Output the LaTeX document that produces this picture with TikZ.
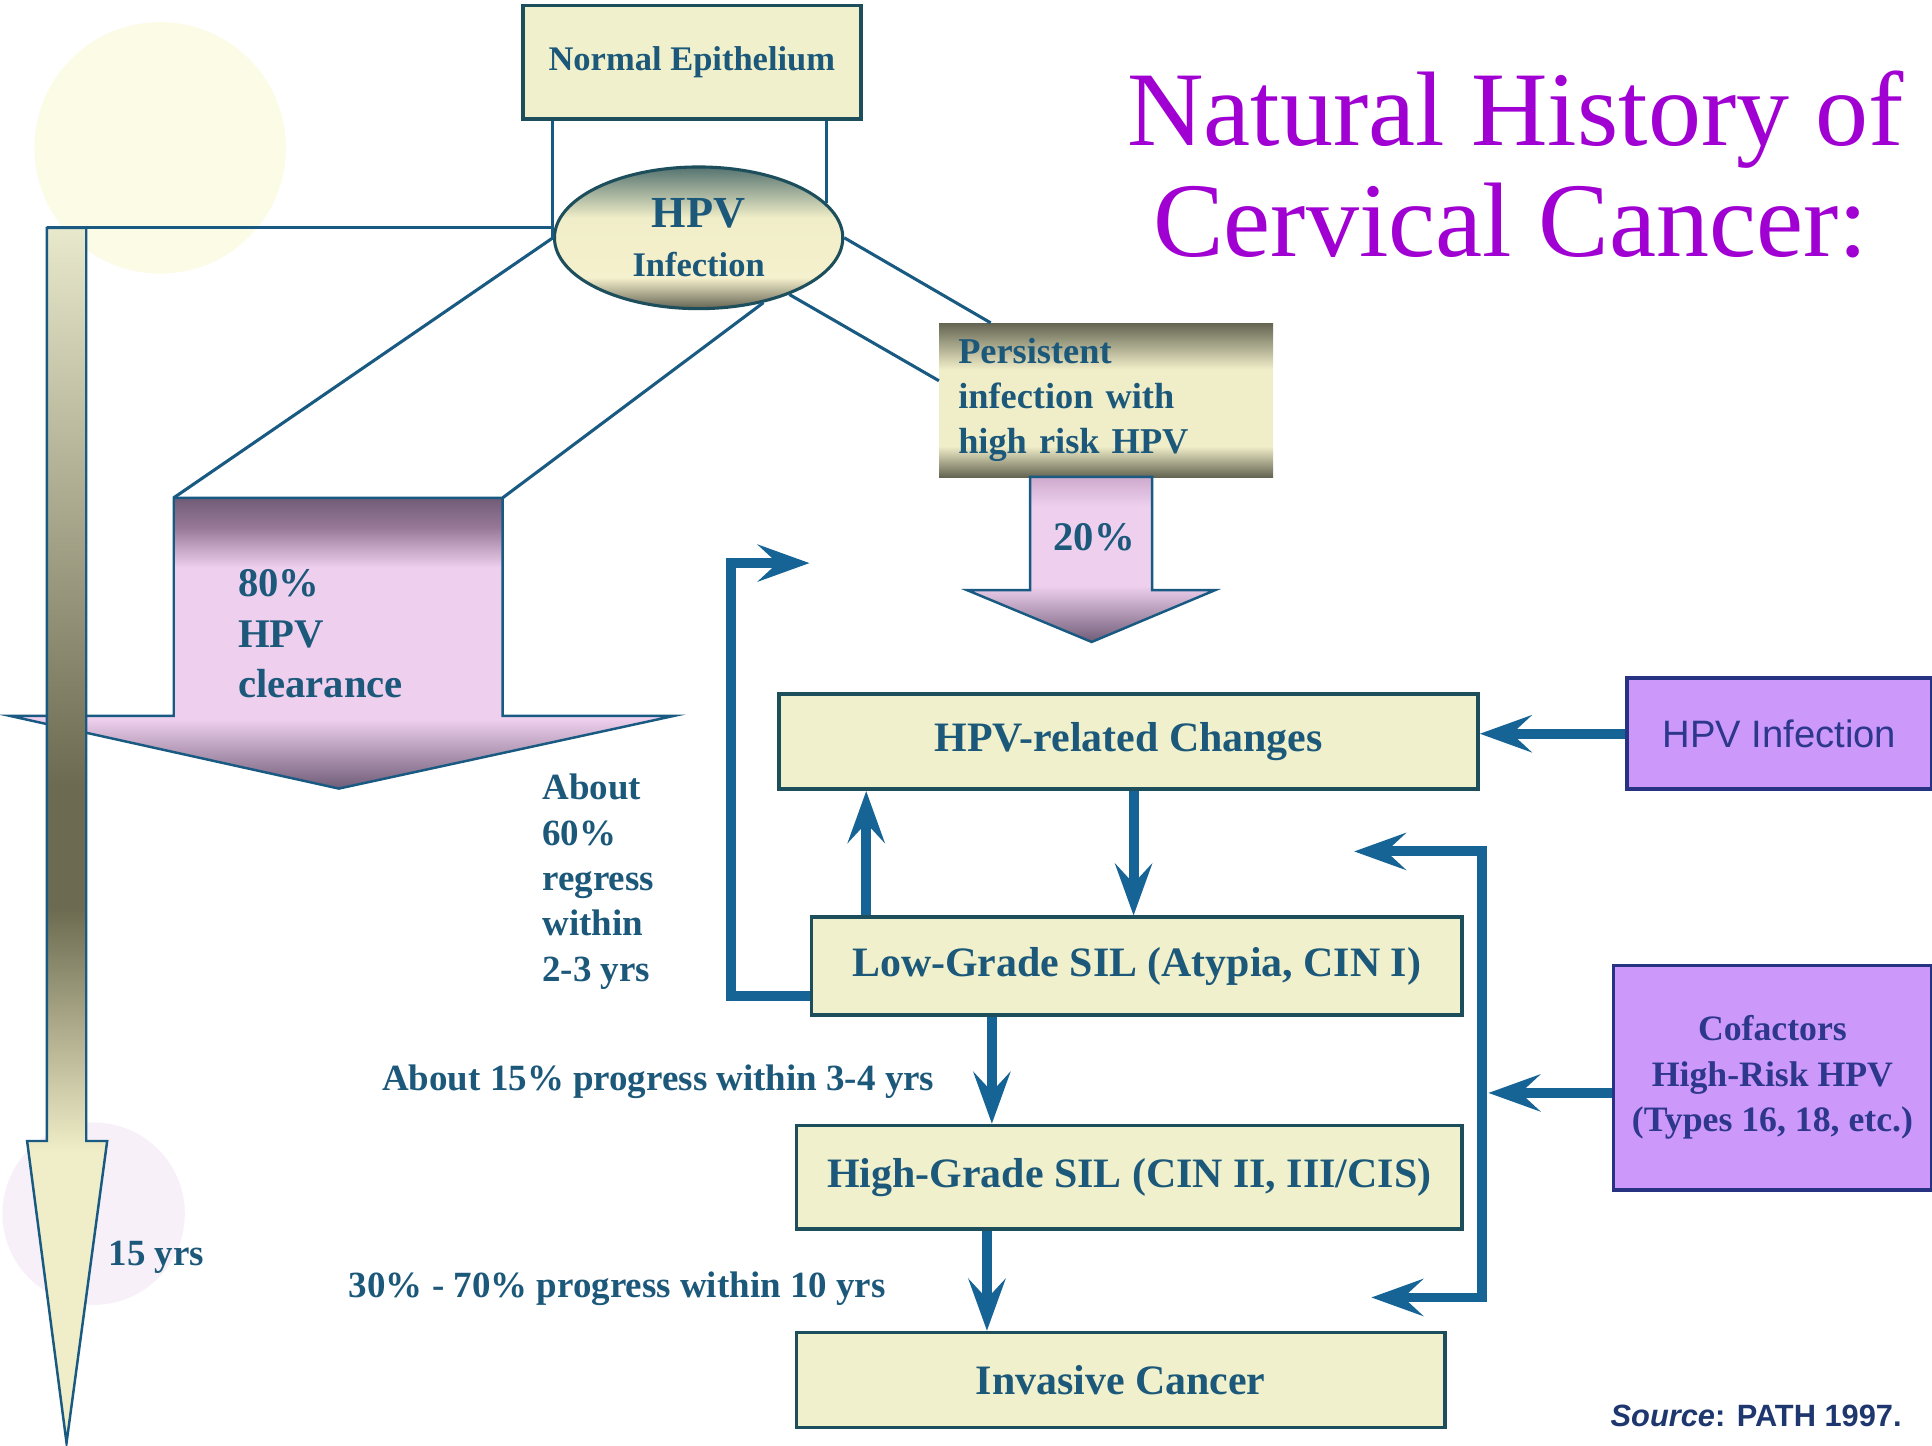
\documentclass[tikz,border=0pt]{standalone}
\usepackage{fontspec}
\setmainfont{Liberation Serif}
\newfontfamily\arialf{Liberation Sans}
\usetikzlibrary{arrows.meta,calc,shapes.geometric}

\definecolor{boxfill}{RGB}{240,241,204}
\definecolor{boxline}{RGB}{28,78,92}
\definecolor{txt}{RGB}{28,88,122}
\definecolor{conn}{RGB}{25,90,130}
\definecolor{arr}{RGB}{22,100,150}
\definecolor{lilac}{RGB}{204,153,250}
\definecolor{lilacline}{RGB}{40,50,130}
\definecolor{lilactxt}{RGB}{45,55,140}
\definecolor{titlec}{RGB}{160,0,210}
\definecolor{srcc}{RGB}{30,55,110}
\definecolor{mauveD}{RGB}{112,92,120}
\definecolor{mauve}{RGB}{150,120,150}
\definecolor{pink}{RGB}{238,208,238}
\definecolor{pinkM}{RGB}{205,170,205}
\definecolor{cream}{RGB}{240,238,200}
\definecolor{creamL}{RGB}{245,240,205}
\definecolor{creamT}{RGB}{232,232,205}
\definecolor{olive}{RGB}{108,106,80}
\definecolor{oliveD}{RGB}{100,100,82}
\definecolor{tealgray}{RGB}{85,115,112}
\definecolor{sunyel}{RGB}{251,251,230}
\definecolor{lavbg}{RGB}{248,240,249}

\pgfdeclareverticalshading{clrshade}{100bp}{color(0bp)=(mauveD); color(25bp)=(mauveD); color(37bp)=(pink); color(63bp)=(pink); color(70bp)=(mauve); color(75bp)=(mauveD); color(100bp)=(mauveD)}
\pgfdeclareverticalshading{tlshade}{100bp}{color(0bp)=(cream); color(25bp)=(cream); color(37bp)=(cream); color(47bp)=(olive); color(52bp)=(olive); color(75bp)=(creamT); color(100bp)=(creamT)}
\pgfdeclareverticalshading{twshade}{100bp}{color(0bp)=(mauveD); color(25bp)=(mauveD); color(42bp)=(pink); color(66bp)=(pink); color(75bp)=(pinkM); color(100bp)=(pinkM)}
\pgfdeclareverticalshading{persshade}{100bp}{color(0bp)=(oliveD); color(25bp)=(oliveD); color(35bp)=(cream); color(60bp)=(cream); color(75bp)=(oliveD); color(100bp)=(oliveD)}
\pgfdeclareverticalshading{hpvshade}{100bp}{color(0bp)=(oliveD); color(25bp)=(oliveD); color(36bp)=(creamL); color(57bp)=(cream); color(75bp)=(tealgray); color(100bp)=(tealgray)}

\begin{document}
\begin{tikzpicture}[x=1pt,y=-1pt,
  box/.style={draw=boxline, line width=3pt, fill=boxfill, text=txt,
    font=\bfseries\fontsize{34}{40}\selectfont, inner sep=0pt, anchor=north west},
  lilacbox/.style={draw=lilacline, line width=3pt, fill=lilac, text=lilactxt,
    inner sep=0pt, anchor=north west, align=center},
  conline/.style={draw=conn, line width=2.5pt},
  bigarrow/.style={draw=arr, line width=8pt, -{Stealth[length=42pt,width=30pt,inset=16pt]}},
  lbl/.style={text=txt, font=\bfseries\fontsize{30}{36.8}\selectfont, inner sep=0pt},
  titletext/.style={text=titlec, font=\fontsize{86}{90}\selectfont, inner sep=0pt, anchor=base},
]
\fill[white] (0,0) rectangle (1568,1173);
\useasboundingbox (0,0) rectangle (1568,1173);

% faint background decoration
\fill[sunyel] (130,120) circle (102);
\fill[lavbg] (76,985) circle (74);

% big 80% clearance arrow
\coordinate (cA) at (141,404);
\coordinate (cB) at (408,404);
\shade[shading=clrshade, draw=conn, line width=2pt]
  (cA) -- (cB) -- (408,581) -- (547,581) -- (275,640) -- (8,581) -- (141,581) -- cycle;

% timeline arrow
\coordinate (tlA) at (38,185);
\shade[shading=tlshade, draw=conn, line width=2pt]
  (tlA) -- (70,185) -- (70,926) -- (87,926) -- (54,1171) -- (22,926) -- (38,926) -- cycle;

% boxes
\node[box, minimum width=274, minimum height=92, font=\bfseries\fontsize{28}{32}\selectfont] (ne) at (423,3) {Normal Epithelium};

\node[ellipse, draw=boxline, line width=2.5pt, minimum width=234, minimum height=115,
  inner sep=0pt, shade, shading=hpvshade, text=txt, align=center,
  font=\bfseries\fontsize{28}{40}\selectfont] (hpv) at (567,193)
  {{\fontsize{36}{40}\selectfont HPV}\\Infection};

\node[anchor=north west, minimum width=271, minimum height=125, inner sep=0pt,
  text width=240, align=left, shade, shading=persshade, text=txt,
  font=\bfseries\fontsize{29.5}{36.5}\selectfont] (pers) at (762,262)
  {Persistent\\infection with\\high risk HPV};

\node[box, minimum width=567, minimum height=77] (chg) at (631,562) {HPV-related Changes};
\node[lilacbox, minimum width=247, minimum height=90, font=\arialf\fontsize{31}{36}\selectfont] (hpvb) at (1319,549) {HPV Infection};
\node[box, minimum width=528, minimum height=79] (lg) at (657,743) {Low-Grade SIL (Atypia, CIN I)};
\node[box, minimum width=540, minimum height=84] (hg) at (645,912) {High-Grade SIL (CIN II, III/CIS)};
\node[box, minimum width=526, minimum height=77] (ic) at (645,1080) {Invasive Cancer};
\node[lilacbox, minimum width=258, minimum height=182, font=\bfseries\fontsize{29}{37}\selectfont] (cof) at (1308,782) {Cofactors\\High-Risk HPV\\(Types 16, 18, etc.)};

% 20% arrow
\shade[shading=twshade, draw=conn, line width=2pt]
  (836,387) -- (935,387) -- (935,479) -- (986,479) -- (886,521) -- (785,479) -- (836,479) -- cycle;

% thin connectors
\draw[conline] (ne.south -| hpv.west) -- (hpv.west);
\draw[conline] (hpv.15 |- ne.south) -- (hpv.15);
\draw[conline] (tlA) -- (tlA -| hpv.west);
\draw[conline] (hpv.west) -- (cA);
\draw[conline] (hpv.-45) -- (cB);
\draw[conline] (hpv.east) -- ($(pers.north west)+(42,0)$);
\draw[conline] (hpv.-32) -- ($(pers.north west)+(0,47)$);

% thick arrows
\coordinate (xDown) at (920,0);
\coordinate (xUp) at (703,0);
\coordinate (xLH) at (805,0);
\coordinate (xHI) at (801,0);
\coordinate (loopY) at (0,808);
\coordinate (loopC) at (593,457);
\coordinate (loopEnd) at (657,457);
\coordinate (brT) at (1203,687);
\coordinate (brT0) at (1207,691);
\coordinate (brTend) at (1099,691);
\coordinate (brB) at (1203,1053);
\coordinate (brBend) at (1113,1053);
\coordinate (cofY) at (0,887);
\coordinate (cofEnd) at (1208,887);

\draw[bigarrow] (hpvb.west) -- (hpvb.west -| chg.east);
\draw[bigarrow] (chg.south -| xDown) -- (lg.north -| xDown);
\draw[bigarrow] (lg.north -| xUp) -- (chg.south -| xUp);
\draw[bigarrow] (lg.west |- loopY) -| (loopC) -- (loopEnd);
\draw[bigarrow] (lg.south -| xLH) -- (hg.north -| xLH);
\draw[bigarrow] (hg.south -| xHI) -- (ic.north -| xHI);
\draw[bigarrow] (brT0) -- (brTend);
\draw[bigarrow] (brT) -- (brB) -- (brBend);
\draw[bigarrow] (cof.west |- cofY) -- (cofEnd);

% labels
\node[lbl, anchor=north west, align=left, font=\bfseries\fontsize{33}{41}\selectfont] (l80) at (193,462) {80\%\\HPV\\clearance};
\node[lbl, font=\bfseries\fontsize{33}{40}\selectfont] (l20) at (888,436) {20\%};
\node[lbl, anchor=north west, align=left] (l60) at (440,628) {About\\60\%\\regress\\within\\2-3 yrs};
\node[lbl, anchor=base west] (l15) at (310,885) {About 15\% progress within 3-4 yrs};
\node[lbl, anchor=base west] (l30) at (283,1053) {30\% - 70\% progress within 10 yrs};
\node[lbl, anchor=base west] (lyr) at (88,1027) {15 yrs};

% title and source
\node[titletext] (t1) at (1230,118) {Natural History of};
\node[titletext] (t2) at (1226,208) {Cervical Cancer:};
\node[anchor=base west, inner sep=0pt, text=srcc, font=\arialf\bfseries\fontsize{25}{30}\selectfont] (src) at (1307,1158) {\textit{Source}: PATH 1997.};
\end{tikzpicture}
\end{document}
